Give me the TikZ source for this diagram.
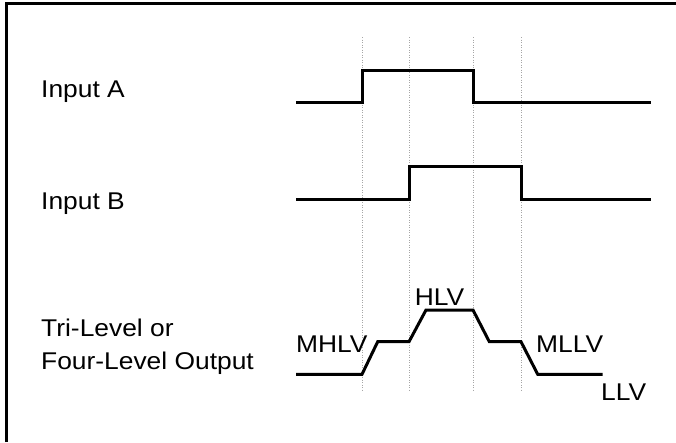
\documentclass[tikz,border=0pt]{standalone}
\usepackage{fontspec}
\setmainfont{Liberation Sans}[FakeStretch=1.09]
\begin{document}
\begin{tikzpicture}[x=1pt,y=-1pt,
		signal/.style={draw,line width=3pt,line join=miter},
		mark line/.style={draw,gray!70,line width=0.6pt,dash pattern=on 1pt off 1.5pt},
		lbl/.style={inner sep=0pt,anchor=base west,font=\fontsize{24.2}{32.7}\selectfont}]
				\useasboundingbox (0,0) rectangle (676,442);
				\path[draw,line width=3pt] (6,442) -- (6,3) -- (676,3);
				\foreach \t/\x in {ta/362,tb/409,tc/473,td/521}{
					\coordinate (\t top) at (\x,37);
					\coordinate (\t bot) at (\x,390);
					\path[mark line] (\t top) -- (\t bot);
				}
				\node[lbl] (ina) at (41,97.3) {Input A};
				\node[lbl] (inb) at (41,209) {Input B};
				\node[lbl,align=left] (out) at (41,369.3) {Tri-Level or\\Four-Level Output};
				\node[lbl] (mhlv) at (296,352.7) {MHLV};
				\node[lbl] (hlv) at (414.7,305) {HLV};
				\node[lbl] (mllv) at (536,352.7) {MLLV};
				\node[lbl] (llv) at (601,400.7) {LLV};
				\path[signal] (296,102.7) -- (362,102.7) -- (362,70.3) -- (473,70.3) -- (473,102.7) -- (651,102.7);
				\path[signal] (296,199) -- (409,199) -- (409,166.7) -- (521,166.7) -- (521,199) -- (651,199);
				\path[signal] (296,374.3) -- (362,374.3) -- (377.7,341.7) -- (409,341.7) -- (426,310) -- (473,310)
					-- (489.3,341.7) -- (521,341.7) -- (537.7,374.3) -- (602.7,374.3);
			\end{tikzpicture}
\end{document}
